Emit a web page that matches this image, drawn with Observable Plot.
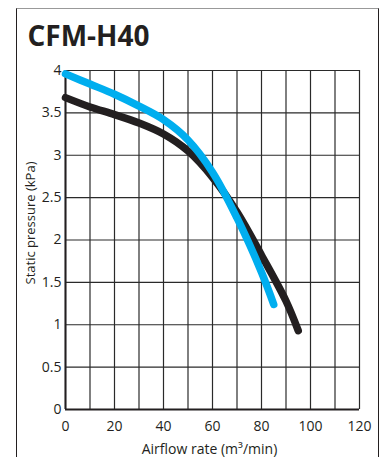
<!DOCTYPE html>
<html>
<head>
<meta charset="utf-8">
<script src="https://cdn.jsdelivr.net/npm/d3@7"></script>
<script src="https://cdn.jsdelivr.net/npm/@observablehq/plot@0.6"></script>
<style>
  html, body { margin: 0; padding: 0; background: #fff; }
  #wrap { position: relative; width: 382px; height: 457px; overflow: hidden; }
  #frame { position: absolute; left: 16px; top: 8px; width: 361px; height: 470px;
           border-left: 1.5px solid #231f20; border-right: 1.5px solid #231f20; border-top: 1.5px solid #999; }
  #chart { position: absolute; left: 0; top: 0; }
  #ylabel { position: absolute; left: -70px; top: 213px; width: 200px; height: 20px; line-height: 20px;
            text-align: center; font-family: 'Open Sans', sans-serif; font-size: 13px; color: #231f20;
            transform: rotate(-90deg); transform-origin: 100px 10px; white-space: nowrap; }
</style>
</head>
<body>
<div id="wrap"><div id="frame"></div><div id="chart"></div><div id="ylabel"></div></div>
<script>
const title = "CFM-H40";
const xLabel = "Airflow rate (m³/min)";
const yLabel = "Static pressure (kPa)";

// blue curve
const blueFlow = [0, 10, 20, 30, 40, 50, 60, 70, 80, 85];
const bluePressure = [3.96, 3.84, 3.72, 3.58, 3.42, 3.18, 2.8, 2.26, 1.62, 1.24];

// black curve
const blackFlow = [0, 10, 20, 30, 40, 50, 60, 70, 80, 90, 95];
const blackPressure = [3.68, 3.57, 3.48, 3.38, 3.25, 3.05, 2.74, 2.33, 1.82, 1.28, 0.93];

const xTicks = [0, 20, 40, 60, 80, 100, 120];
const yTicks = [0, 0.5, 1, 1.5, 2, 2.5, 3, 3.5, 4];
const xGrid = [0, 10, 20, 30, 40, 50, 60, 70, 80, 90, 100, 110, 120];

const blue = blueFlow.map((x, i) => ({x, y: bluePressure[i]}));
const black = blackFlow.map((x, i) => ({x, y: blackPressure[i]}));

const chart = Plot.plot({
  width: 382,
  height: 457,
  marginLeft: 65,
  marginRight: 23,
  marginTop: 70,
  marginBottom: 48,
  style: {fontFamily: "'Open Sans', sans-serif", fontSize: "14px", color: "#231f20", background: "transparent"},
  x: {domain: [0, 120], ticks: xTicks, tickSize: 0, tickPadding: 12, label: null, tickFormat: d => String(d)},
  y: {domain: [0, 4], ticks: yTicks, tickSize: 0, tickPadding: 4, label: null, tickFormat: d => String(d)},
  marks: [
    Plot.gridX(xGrid, {stroke: "#2a2a2a", strokeOpacity: 1, strokeWidth: 1.2}),
    Plot.gridY(yTicks, {stroke: "#2a2a2a", strokeOpacity: 1, strokeWidth: 1.2}),
    Plot.ruleX([0], {stroke: "#231f20", strokeWidth: 2}),
    Plot.ruleY([0], {stroke: "#231f20", strokeWidth: 2}),
    Plot.line(black, {x: "x", y: "y", stroke: "#231f20", strokeWidth: 7.5, strokeLinecap: "round", curve: "catmull-rom"}),
    Plot.line(blue, {x: "x", y: "y", stroke: "#00aeef", strokeWidth: 7.5, strokeLinecap: "round", curve: "catmull-rom"}),
    Plot.text([title], {frameAnchor: "top-left", dx: -38, dy: -25, textAnchor: "start", lineAnchor: "bottom", fontSize: 28, fontWeight: "bold", fill: "#231f20"}),
    Plot.text([xLabel], {frameAnchor: "bottom", dx: -3, dy: 44, fontSize: 14, fill: "#231f20"})
  ]
});
document.getElementById("chart").appendChild(chart);
document.getElementById("ylabel").textContent = yLabel;
</script>
</body>
</html>
